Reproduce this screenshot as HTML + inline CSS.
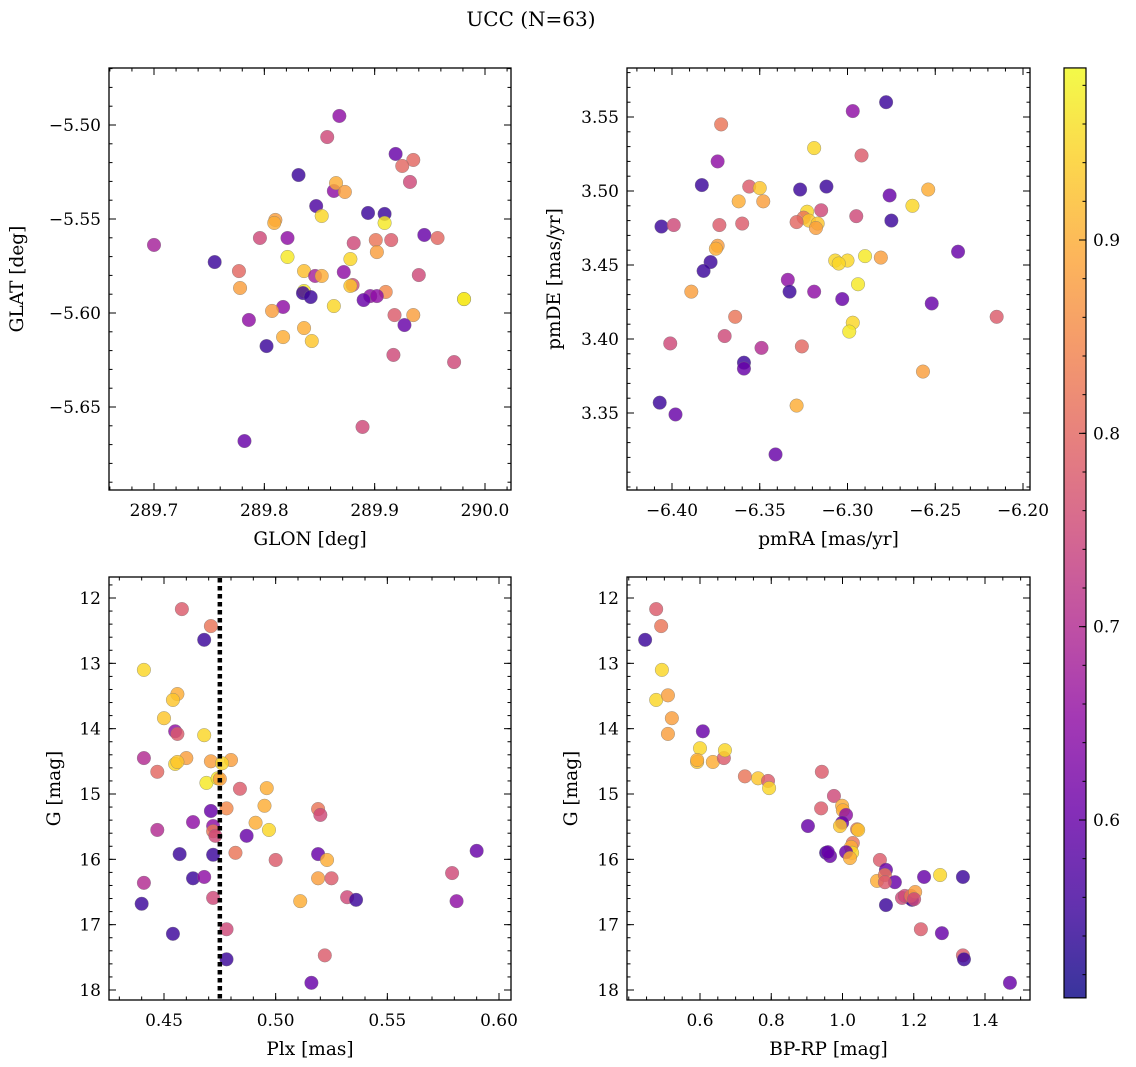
<!DOCTYPE html>
<html><head><meta charset="utf-8">
<style>
html,body{margin:0;padding:0;background:#fff;}
svg{display:block;font-family:"DejaVu Serif","Liberation Serif",serif;}
</style></head>
<body>
<svg id="chart" width="1136" height="1067" viewBox="0 0 1136 1067" xmlns="http://www.w3.org/2000/svg">
<defs>
<linearGradient id="plasma" x1="0" y1="1" x2="0" y2="0">
<stop offset="0" stop-color="#0d0887"/><stop offset="0.1" stop-color="#41049d"/><stop offset="0.2" stop-color="#6a00a8"/>
<stop offset="0.3" stop-color="#8f0da4"/><stop offset="0.4" stop-color="#b12a90"/><stop offset="0.5" stop-color="#cc4778"/>
<stop offset="0.6" stop-color="#e16462"/><stop offset="0.7" stop-color="#f2844b"/><stop offset="0.8" stop-color="#fca636"/>
<stop offset="0.9" stop-color="#fcce25"/><stop offset="1" stop-color="#f0f921"/>
</linearGradient>
</defs>
<text x="531" y="26" font-size="20" text-anchor="middle">UCC (N=63)</text>
</svg>
<script>
// ---- data: panel 1 (GLON vs GLAT) ----
const glon1 = [289.868,289.857,289.919,289.935,289.831,289.925,289.932,289.863,289.865,289.873,289.847,289.894,289.909,289.909,289.852,289.810,289.809,289.796,289.821,289.700,289.881,289.945,289.957,289.901,289.915,289.902,289.755,289.821,289.878,289.777,289.836,289.872,289.846,289.852,289.981,289.940,289.880,289.878,289.836,289.835,289.842,289.778,289.910,289.896,289.890,289.902,289.981,289.863,289.817,289.807,289.918,289.935,289.927,289.786,289.836,289.817,289.843,289.802,289.917,289.972,289.889,289.782];
const glat1 = [-5.4952,-5.5064,-5.5154,-5.5186,-5.5266,-5.5218,-5.5303,-5.5351,-5.5309,-5.5356,-5.5431,-5.5468,-5.5473,-5.5521,-5.5484,-5.5505,-5.5521,-5.5601,-5.5601,-5.5638,-5.5628,-5.5585,-5.5601,-5.5612,-5.5612,-5.5676,-5.5729,-5.5702,-5.5713,-5.5777,-5.5777,-5.5782,-5.5803,-5.5803,-5.5926,-5.5798,-5.5851,-5.5856,-5.5883,-5.5894,-5.5915,-5.5867,-5.5888,-5.5910,-5.5931,-5.5910,-5.5926,-5.5963,-5.5968,-5.5989,-5.6011,-5.6011,-5.6064,-5.6037,-5.6080,-5.6128,-5.6149,-5.6176,-5.6223,-5.6261,-5.6606,-5.6681];
const prob1 = [0.65,0.75,0.6,0.8,0.55,0.8,0.75,0.65,0.9,0.88,0.57,0.55,0.55,0.97,0.95,0.88,0.9,0.75,0.65,0.68,0.75,0.6,0.8,0.82,0.78,0.88,0.55,0.97,0.95,0.8,0.92,0.65,0.68,0.9,0.97,0.75,0.75,0.93,0.97,0.55,0.55,0.88,0.85,0.65,0.6,0.65,0.97,0.95,0.65,0.88,0.78,0.88,0.6,0.65,0.9,0.9,0.93,0.55,0.75,0.75,0.75,0.6];
// ---- data: panel 2 (pmRA vs pmDE) ----
const pmra2 = [-6.278,-6.297,-6.372,-6.319,-6.374,-6.292,-6.312,-6.383,-6.276,-6.356,-6.350,-6.327,-6.254,-6.348,-6.362,-6.263,-6.315,-6.323,-6.325,-6.322,-6.295,-6.275,-6.329,-6.360,-6.317,-6.318,-6.406,-6.399,-6.373,-6.237,-6.374,-6.375,-6.378,-6.307,-6.300,-6.305,-6.290,-6.281,-6.382,-6.389,-6.334,-6.319,-6.333,-6.294,-6.303,-6.252,-6.364,-6.215,-6.297,-6.299,-6.370,-6.401,-6.326,-6.349,-6.359,-6.359,-6.257,-6.329,-6.407,-6.398,-6.341];
const pmde2 = [3.560,3.554,3.545,3.529,3.520,3.524,3.503,3.504,3.497,3.503,3.502,3.501,3.501,3.493,3.493,3.490,3.487,3.486,3.482,3.480,3.483,3.480,3.479,3.478,3.478,3.475,3.476,3.477,3.477,3.459,3.463,3.461,3.452,3.453,3.453,3.451,3.456,3.455,3.446,3.432,3.440,3.432,3.432,3.437,3.427,3.424,3.415,3.415,3.411,3.405,3.402,3.397,3.395,3.394,3.384,3.380,3.378,3.355,3.357,3.349,3.322];
const prob2 = [0.55,0.65,0.82,0.95,0.65,0.78,0.55,0.55,0.6,0.78,0.93,0.55,0.9,0.88,0.9,0.95,0.75,0.95,0.82,0.93,0.75,0.55,0.8,0.78,0.93,0.88,0.55,0.75,0.78,0.6,0.88,0.9,0.55,0.95,0.95,0.95,0.97,0.88,0.55,0.88,0.65,0.65,0.55,0.97,0.6,0.6,0.82,0.78,0.95,0.97,0.75,0.75,0.8,0.7,0.55,0.6,0.88,0.9,0.55,0.6,0.6];
// ---- data: panel 3 (Plx vs G) ----
const plx3 = [0.458,0.471,0.468,0.441,0.456,0.454,0.450,0.455,0.456,0.468,0.441,0.455,0.460,0.456,0.480,0.471,0.476,0.447,0.469,0.474,0.475,0.484,0.496,0.478,0.495,0.471,0.491,0.519,0.520,0.463,0.447,0.472,0.497,0.472,0.473,0.487,0.457,0.472,0.482,0.519,0.500,0.523,0.590,0.463,0.468,0.441,0.519,0.525,0.579,0.472,0.532,0.536,0.511,0.581,0.440,0.454,0.478,0.522,0.478,0.516];
const g3 = [12.17,12.43,12.64,13.10,13.47,13.56,13.84,14.04,14.08,14.10,14.45,14.54,14.45,14.51,14.48,14.50,14.53,14.66,14.83,14.76,14.77,14.92,14.91,15.22,15.18,15.26,15.44,15.23,15.32,15.43,15.55,15.49,15.55,15.57,15.64,15.64,15.92,15.93,15.90,15.92,16.01,16.01,15.87,16.29,16.27,16.36,16.29,16.29,16.21,16.59,16.58,16.62,16.64,16.64,16.68,17.14,17.07,17.47,17.53,17.89];
const prob3 = [0.78,0.82,0.55,0.95,0.9,0.93,0.93,0.65,0.78,0.95,0.7,0.95,0.88,0.93,0.88,0.88,0.95,0.8,0.97,0.97,0.88,0.78,0.9,0.85,0.9,0.6,0.9,0.82,0.75,0.65,0.7,0.65,0.95,0.82,0.75,0.6,0.55,0.55,0.82,0.6,0.78,0.9,0.6,0.55,0.65,0.7,0.88,0.78,0.75,0.75,0.75,0.55,0.9,0.65,0.55,0.55,0.75,0.78,0.55,0.6];
// ---- data: panel 4 (BP-RP vs G) ----
const bprp4 = [0.446,0.477,0.491,0.493,0.477,0.510,0.521,0.608,0.510,0.600,0.592,0.592,0.636,0.667,0.670,0.726,0.763,0.791,0.794,0.942,0.976,0.940,0.999,1.001,1.010,0.903,0.999,0.993,1.041,1.044,1.029,1.024,1.027,0.954,0.965,0.959,1.010,1.021,1.105,1.122,1.097,1.119,1.147,1.119,1.229,1.274,1.338,1.122,1.189,1.195,1.167,1.175,1.192,1.204,1.201,1.220,1.279,1.338,1.341,1.470];
const g4 = [12.64,12.17,12.43,13.10,13.56,13.49,13.84,14.04,14.08,14.30,14.51,14.48,14.51,14.45,14.33,14.73,14.76,14.80,14.91,14.66,15.03,15.22,15.18,15.25,15.32,15.49,15.44,15.49,15.54,15.55,15.75,15.81,15.90,15.90,15.95,15.89,15.89,15.98,16.01,16.16,16.33,16.24,16.35,16.35,16.27,16.24,16.27,16.70,16.59,16.62,16.59,16.56,16.56,16.50,16.61,17.07,17.13,17.47,17.53,17.89];
const prob4 = [0.55,0.78,0.82,0.95,0.95,0.88,0.88,0.6,0.88,0.95,0.93,0.9,0.9,0.78,0.95,0.82,0.93,0.78,0.95,0.78,0.75,0.78,0.9,0.9,0.65,0.6,0.6,0.93,0.82,0.93,0.82,0.9,0.95,0.55,0.6,0.6,0.6,0.9,0.78,0.6,0.9,0.82,0.6,0.78,0.6,0.95,0.55,0.55,0.6,0.55,0.75,0.75,0.82,0.88,0.75,0.78,0.6,0.78,0.55,0.6];
// ---- ticks ----
const xt1 = [289.7,289.8,289.9,290.0], xl1 = ["289.7","289.8","289.9","290.0"];
const yt1 = [-5.50,-5.55,-5.60,-5.65], yl1 = ["\u22125.50","\u22125.55","\u22125.60","\u22125.65"];
const xt2 = [-6.40,-6.35,-6.30,-6.25,-6.20], xl2 = ["\u22126.40","\u22126.35","\u22126.30","\u22126.25","\u22126.20"];
const yt2 = [3.55,3.50,3.45,3.40,3.35], yl2 = ["3.55","3.50","3.45","3.40","3.35"];
const xt3 = [0.45,0.50,0.55,0.60], xl3 = ["0.45","0.50","0.55","0.60"];
const yt3 = [12,13,14,15,16,17,18], yl3 = ["12","13","14","15","16","17","18"];
const xt4 = [0.6,0.8,1.0,1.2,1.4], xl4 = ["0.6","0.8","1.0","1.2","1.4"];
const cbt = [0.6,0.7,0.8,0.9], cbl = ["0.6","0.7","0.8","0.9"];
const plxCut = 0.475;
const vmin = 0.508, vmax = 0.989;

const TICK_FS = 17, LAB_FS = 18.5;
const NS = "http://www.w3.org/2000/svg";
const svg = document.getElementById("chart");
function mk(tag, attrs, parent) {
  const e = document.createElementNS(NS, tag);
  for (const k in attrs) e.setAttribute(k, attrs[k]);
  (parent || svg).appendChild(e);
  return e;
}
function lin(d0, p0, d1, p1) { return v => p0 + (v - d0) * (p1 - p0) / (d1 - d0); }
const stops = ["#0d0887","#41049d","#6a00a8","#8f0da4","#b12a90","#cc4778","#e16462","#f2844b","#fca636","#fcce25","#f0f921"];
function hex(h){return [1,3,5].map(i=>parseInt(h.substr(i,2),16));}
function plasma(t) {
  t = Math.max(0, Math.min(1, t)) * 10;
  const i = Math.min(9, Math.floor(t)), f = t - i;
  const a = hex(stops[i]), b = hex(stops[i+1]);
  return "rgb(" + a.map((v,k)=>Math.round(v+(b[k]-v)*f)).join(",") + ")";
}
function panel(name, box, sx, sy, xt, xl, yt, yl, xminor, yminor, xs, ys, ps, xlabel, ylabel, ylabX) {
  const g = mk("g", {});
  
  
  const [x0, y0, x1, y1] = box;
  const pts = mk("g", {}, g);
  
  
  for (let i = 0; i < xs.length; i++) {
    const c = mk("circle", {cx: sx(xs[i]), cy: sy(ys[i]), r: 6.8, fill: plasma((ps[i]-vmin)/(vmax-vmin)), "fill-opacity": 0.82, stroke: "#777", "stroke-width": 0.5, "stroke-opacity": 0.7}, pts);
    
    
  }
  const fr = mk("rect", {x: x0, y: y0, width: x1 - x0, height: y1 - y0, fill: "none", stroke: "#000", "stroke-width": 1.3}, g);
  
  
  const tk = mk("g", {stroke: "#000", "stroke-width": 1}, g);
  
  
  const xa = Math.min(xt[0], xt[xt.length-1]) - 10 * xminor, xb = Math.max(xt[0], xt[xt.length-1]) + 10 * xminor;
  for (let k = Math.round(xa / xminor); k <= Math.round(xb / xminor); k++) {
    const px = sx(k * xminor);
    if (px <= x0 + 0.5 || px >= x1 - 0.5) continue;
    mk("line", {x1: px, y1: y1, x2: px, y2: y1 - 3.5}, tk);
    mk("line", {x1: px, y1: y0, x2: px, y2: y0 + 3.5}, tk);
  }
  const ya = Math.min(...yt) - 10 * yminor, yb = Math.max(...yt) + 10 * yminor;
  for (let k = Math.round(ya / yminor); k <= Math.round(yb / yminor); k++) {
    const py = sy(k * yminor);
    if (py <= y0 + 0.5 || py >= y1 - 0.5) continue;
    mk("line", {x1: x0, y1: py, x2: x0 + 3.5, y2: py}, tk);
    mk("line", {x1: x1, y1: py, x2: x1 - 3.5, y2: py}, tk);
  }
  xt.forEach((v, i) => {
    const px = sx(v);
    mk("line", {x1: px, y1: y1, x2: px, y2: y1 - 7}, tk);
    mk("line", {x1: px, y1: y0, x2: px, y2: y0 + 7}, tk);
    const t = mk("text", {x: px, y: y1 + 26, "font-size": TICK_FS, "text-anchor": "middle"}, g);
    t.textContent = xl[i];
    
    
  });
  yt.forEach((v, i) => {
    const py = sy(v);
    mk("line", {x1: x0, y1: py, x2: x0 + 7, y2: py}, tk);
    mk("line", {x1: x1, y1: py, x2: x1 - 7, y2: py}, tk);
    const t = mk("text", {x: x0 - 8, y: py + 6, "font-size": TICK_FS, "text-anchor": "end"}, g);
    t.textContent = yl[i];
    
    
  });
  const xlb = mk("text", {x: (x0 + x1) / 2, y: y1 + 55, "font-size": LAB_FS, "text-anchor": "middle"}, g);
  xlb.textContent = xlabel;
  
  
  const ylb = mk("text", {x: 0, y: 0, "font-size": LAB_FS, "text-anchor": "middle", transform: "translate(" + ylabX + "," + ((y0 + y1) / 2) + ") rotate(-90)"}, g);
  ylb.textContent = ylabel;
  
  
  return g;
}
panel("glon-glat-panel", [109, 68, 511, 490], lin(289.7, 154, 290.0, 485), lin(-5.50, 125, -5.65, 407),
  xt1, xl1, yt1, yl1, 0.02, 0.01, glon1, glat1, prob1, "GLON [deg]", "GLAT [deg]", 23);
panel("pm-panel", [627, 68, 1030, 490], lin(-6.40, 672, -6.20, 1023), lin(3.55, 117, 3.35, 413),
  xt2, xl2, yt2, yl2, 0.01, 0.01, pmra2, pmde2, prob2, "pmRA [mas/yr]", "pmDE [mas/yr]", 560);
const sx3 = lin(0.45, 164, 0.60, 499), sy3 = lin(12, 598, 18, 990);
const p3 = panel("plx-g-panel", [109, 577, 511, 1000], sx3, sy3,
  xt3, xl3, yt3, yl3, 0.01, 0.2, plx3, g3, prob3, "Plx [mas]", "G [mag]", 60);
const cut = mk("line", {x1: sx3(plxCut), y1: 578, x2: sx3(plxCut), y2: 999, stroke: "#000", "stroke-width": 4.5, "stroke-dasharray": "4.5 3.5"}, p3);


panel("cmd-panel", [627, 577, 1030, 1000], lin(0.6, 700, 1.4, 985), sy3,
  xt4, xl4, yt3, yl3, 0.05, 0.2, bprp4, g4, prob4, "BP-RP [mag]", "G [mag]", 577);
const cb = mk("g", {});


const cbs = lin(0.9, 240, 0.6, 820);
const cy0 = cbs(vmax), cy1 = cbs(vmin);
mk("rect", {x: 1064, y: cy0, width: 22, height: cy1 - cy0, fill: "url(#plasma)", "fill-opacity": 0.82}, cb);
mk("rect", {x: 1064, y: cy0, width: 22, height: cy1 - cy0, fill: "none", stroke: "#000", "stroke-width": 1.2}, cb);
for (let k = 26; k <= 49; k++) {
  const v = k * 0.02, py = cbs(v);
  if (py <= cy0 + 0.5 || py >= cy1 - 0.5) continue;
  mk("line", {x1: 1086, y1: py, x2: 1082.5, y2: py, stroke: "#000", "stroke-width": 1}, cb);
}
cbt.forEach((v, i) => {
  const py = cbs(v);
  mk("line", {x1: 1086, y1: py, x2: 1079, y2: py, stroke: "#000", "stroke-width": 1}, cb);
  const t = mk("text", {x: 1093, y: py + 6, "font-size": TICK_FS}, cb);
  t.textContent = cbl[i];
  
  
});
</script>
</body></html>
